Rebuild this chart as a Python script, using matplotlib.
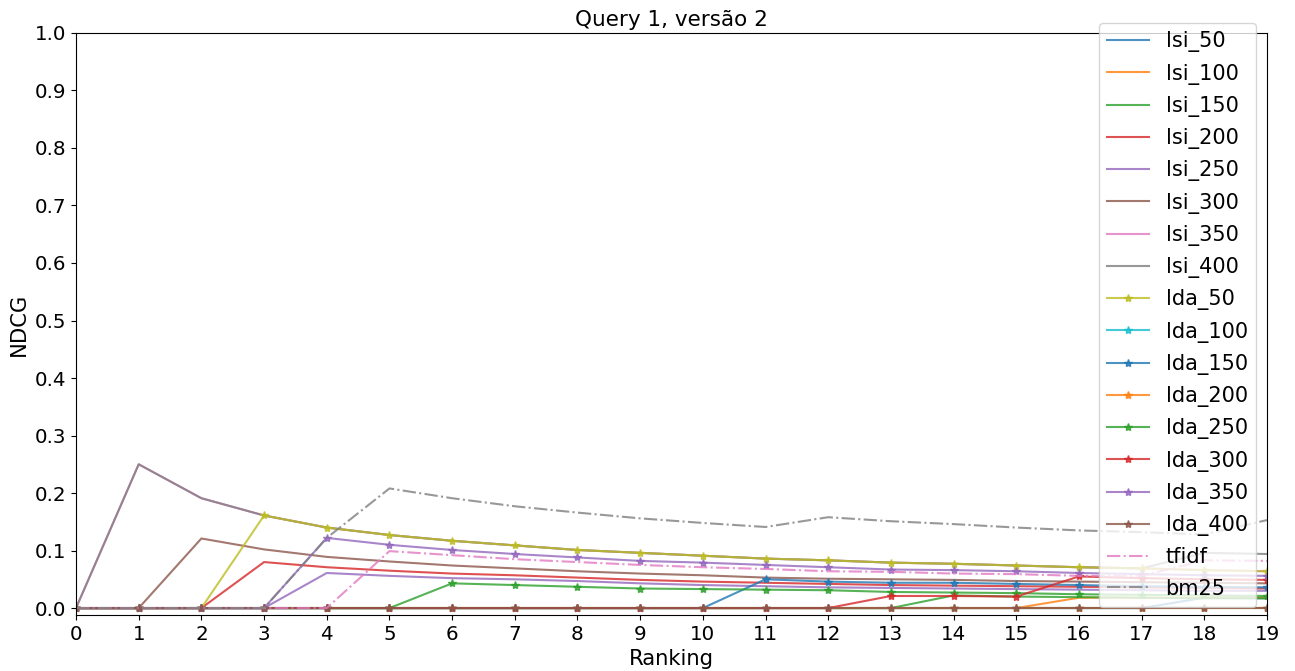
import numpy as np
import matplotlib
matplotlib.use("Agg")
import matplotlib.pyplot as plt

plt.rcParams['font.size'] = 14.3

ranking = list(range(20))

# lsi models (solid lines)
lsi_50 = [0, 0, 0, 0, 0, 0, 0, 0, 0, 0, 0, 0, 0, 0, 0, 0, 0, 0, 0.018, 0.017]
lsi_100 = [0, 0, 0, 0, 0, 0, 0, 0, 0, 0, 0, 0, 0, 0, 0, 0, 0.018, 0.018, 0.018, 0.018]
lsi_150 = [0, 0, 0, 0, 0, 0, 0, 0, 0, 0, 0, 0, 0, 0, 0.022, 0.020, 0.019, 0.018, 0.017, 0.017]
lsi_200 = [0, 0, 0, 0.080, 0.071, 0.065, 0.060, 0.057, 0.053, 0.049, 0.046, 0.044, 0.042,
           0.040, 0.039, 0.038, 0.037, 0.036, 0.035, 0.034]
lsi_250 = [0, 0, 0, 0, 0.061, 0.056, 0.052, 0.050, 0.047, 0.043, 0.040, 0.038, 0.036,
           0.035, 0.034, 0.033, 0.032, 0.031, 0.030, 0.030]
lsi_300 = [0, 0, 0.121, 0.102, 0.089, 0.081, 0.074, 0.069, 0.064, 0.060, 0.057, 0.053, 0.051,
           0.050, 0.049, 0.047, 0.046, 0.045, 0.044, 0.043]
lsi_350 = [0, 0.250, 0.191, 0.161, 0.140, 0.127, 0.117, 0.109, 0.101, 0.096, 0.091, 0.086,
           0.083, 0.079, 0.077, 0.074, 0.071, 0.069, 0.066, 0.064]
lsi_400 = [0, 0.250, 0.191, 0.161, 0.140, 0.127, 0.117, 0.109, 0.101, 0.096, 0.091, 0.086,
           0.083, 0.079, 0.077, 0.074, 0.071, 0.069, 0.096, 0.094]

# lda models (star markers)
lda_50 = [0, 0, 0, 0.161, 0.140, 0.127, 0.117, 0.109, 0.101, 0.096, 0.091, 0.086,
          0.083, 0.079, 0.077, 0.074, 0.071, 0.069, 0.066, 0.064]
lda_100 = [0] * 20
lda_150 = [0, 0, 0, 0, 0, 0, 0, 0, 0, 0, 0, 0.050, 0.046, 0.044, 0.044, 0.042, 0.040,
           0.038, 0.037, 0.036]
lda_200 = [0] * 20
lda_250 = [0, 0, 0, 0, 0, 0, 0.043, 0.040, 0.037, 0.034, 0.033, 0.032, 0.031, 0.028,
           0.027, 0.026, 0.024, 0.023, 0.022, 0.021]
lda_300 = [0, 0, 0, 0, 0, 0, 0, 0, 0, 0, 0, 0, 0, 0.021, 0.021, 0.020, 0.055, 0.052,
           0.050, 0.049]
lda_350 = [0, 0, 0, 0, 0.122, 0.110, 0.101, 0.094, 0.088, 0.082, 0.079, 0.075, 0.071,
           0.067, 0.066, 0.064, 0.061, 0.059, 0.057, 0.056]
lda_400 = [0] * 20

# baselines (dash-dot)
tfidf = [0, 0, 0, 0, 0, 0.099, 0.092, 0.085, 0.080, 0.075, 0.071, 0.068, 0.064, 0.063,
         0.060, 0.059, 0.056, 0.056, 0.083, 0.082]
bm25 = [0, 0, 0, 0, 0.122, 0.208, 0.191, 0.177, 0.166, 0.156, 0.148, 0.141, 0.158, 0.151,
        0.146, 0.140, 0.135, 0.132, 0.128, 0.153]

lsi = [("lsi_50", lsi_50), ("lsi_100", lsi_100), ("lsi_150", lsi_150), ("lsi_200", lsi_200),
       ("lsi_250", lsi_250), ("lsi_300", lsi_300), ("lsi_350", lsi_350), ("lsi_400", lsi_400)]
lda = [("lda_50", lda_50), ("lda_100", lda_100), ("lda_150", lda_150), ("lda_200", lda_200),
       ("lda_250", lda_250), ("lda_300", lda_300), ("lda_350", lda_350), ("lda_400", lda_400)]

fig = plt.figure(figsize=(12.95, 6.71), dpi=100)
ax = fig.add_axes([0.0587, 0.0835, 0.9197, 0.8674])

for name, vals in lsi:
    ax.plot(ranking, vals, label=name, alpha=0.8)
for name, vals in lda:
    ax.plot(ranking, vals, marker='*', label=name, alpha=0.8)
ax.plot(ranking, tfidf, '-.', label='tfidf', alpha=0.8)
ax.plot(ranking, bm25, '-.', label='bm25', alpha=0.8)

ax.set_xlim(0, 19)
ax.set_ylim(-0.012, 1.0)
ax.set_xticks(ranking)
ax.set_yticks(np.arange(0, 1.01, 0.1))
ax.set_xlabel("Ranking", fontsize=15.2)
ax.set_ylabel("NDCG", fontsize=15.2)
ax.set_title("Query 1, versão 2", fontsize=15.5, pad=5)

# legend is bigger than the axes, pin its corner in figure coords
ax.legend(loc='upper right', bbox_to_anchor=(0.9699, 0.9657),
          bbox_transform=fig.transFigure, borderaxespad=0,
          fontsize=15, labelspacing=0.54)

fig.savefig("out.png", dpi=100)
